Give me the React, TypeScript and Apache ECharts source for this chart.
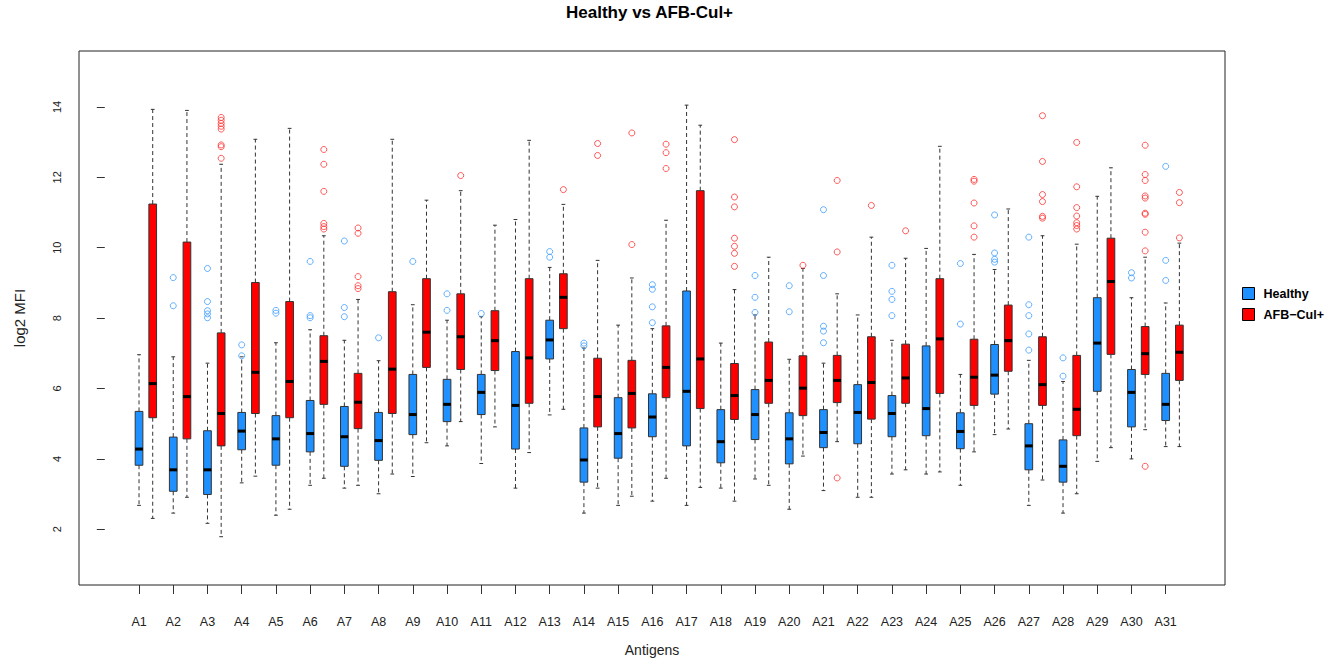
import React, { useEffect, useRef } from "react";
import * as echarts from "echarts";

const categories = [
  "A1", "A2", "A3", "A4", "A5", "A6", "A7", "A8", "A9", "A10",
  "A11", "A12", "A13", "A14", "A15", "A16", "A17", "A18", "A19", "A20",
  "A21", "A22", "A23", "A24", "A25", "A26", "A27", "A28", "A29", "A30", "A31",
];

const yTicks = [2, 4, 6, 8, 10, 12, 14];

// [lower whisker, Q1, median, Q3, upper whisker]
const healthyStats = [
  [2.68, 3.82, 4.28, 5.35, 6.96],
  [2.46, 3.08, 3.69, 4.62, 6.9],
  [2.17, 2.99, 3.69, 4.8, 6.72],
  [3.32, 4.26, 4.79, 5.32, 6.9],
  [2.4, 3.82, 4.57, 5.23, 7.3],
  [3.25, 4.2, 4.72, 5.66, 7.67],
  [3.17, 3.79, 4.63, 5.49, 7.37],
  [3.01, 3.96, 4.52, 5.32, 6.79],
  [3.5, 4.69, 5.26, 6.4, 8.38],
  [4.37, 5.06, 5.55, 6.26, 7.94],
  [3.87, 5.26, 5.89, 6.4, 8.04],
  [3.17, 4.28, 5.52, 7.05, 10.8],
  [5.25, 6.84, 7.38, 7.94, 9.44],
  [2.46, 3.34, 3.97, 4.88, 7.15],
  [2.68, 4.02, 4.72, 5.74, 7.8],
  [2.8, 4.63, 5.19, 5.85, 7.7],
  [2.68, 4.37, 5.92, 8.77, 14.05],
  [3.17, 3.89, 4.49, 5.4, 7.29],
  [3.43, 4.55, 5.26, 5.97, 8.09],
  [2.57, 3.86, 4.57, 5.31, 6.83],
  [3.1, 4.32, 4.75, 5.4, 6.72],
  [2.91, 4.43, 5.32, 6.11, 8.09],
  [3.57, 4.63, 5.29, 5.8, 7.37],
  [3.57, 4.66, 5.43, 7.21, 9.98],
  [3.25, 4.29, 4.78, 5.31, 6.4],
  [4.69, 5.84, 6.38, 7.25, 9.38],
  [2.68, 3.69, 4.37, 5.0, 6.8],
  [2.46, 3.34, 3.79, 4.54, 6.2],
  [3.93, 5.92, 7.29, 8.58, 11.46],
  [4.0, 4.91, 5.89, 6.54, 8.58],
  [4.35, 5.09, 5.55, 6.43, 8.43],
];

const afbStats = [
  [2.31, 5.17, 6.14, 11.24, 13.93],
  [2.91, 4.57, 5.77, 10.16, 13.9],
  [1.79, 4.37, 5.29, 7.58, 12.37],
  [3.51, 5.29, 6.46, 9.01, 13.08],
  [2.57, 5.17, 6.2, 8.47, 13.39],
  [3.45, 5.55, 6.77, 7.5, 10.34],
  [3.25, 4.86, 5.61, 6.43, 8.53],
  [3.57, 5.29, 6.55, 8.75, 13.08],
  [4.46, 6.6, 7.6, 9.12, 11.35],
  [5.06, 6.54, 7.47, 8.69, 11.62],
  [4.91, 6.51, 7.36, 8.21, 10.64],
  [4.18, 5.58, 6.87, 9.12, 13.05],
  [5.41, 7.7, 8.59, 9.26, 11.23],
  [3.17, 4.91, 5.77, 6.86, 9.64],
  [2.94, 4.88, 5.86, 6.8, 9.14],
  [3.45, 5.74, 6.6, 7.78, 10.78],
  [3.19, 5.43, 6.84, 11.62, 13.48],
  [2.8, 5.12, 5.8, 6.71, 8.81],
  [3.25, 5.58, 6.23, 7.32, 9.73],
  [4.08, 5.23, 6.01, 6.93, 9.41],
  [4.49, 5.6, 6.23, 6.94, 8.69],
  [2.91, 5.13, 6.17, 7.47, 10.3],
  [3.69, 5.58, 6.3, 7.26, 9.7],
  [3.63, 5.86, 7.41, 9.12, 12.88],
  [4.2, 5.52, 6.32, 7.4, 9.81],
  [4.85, 6.49, 7.36, 8.37, 11.1],
  [3.4, 5.52, 6.11, 7.47, 10.34],
  [3.01, 4.66, 5.41, 6.94, 10.1],
  [4.32, 6.97, 9.04, 10.27, 12.27],
  [4.83, 6.4, 6.99, 7.76, 9.73],
  [4.35, 6.23, 7.03, 7.8, 10.13],
];

const healthyOutliers = [
  [],
  [9.15, 8.35],
  [9.41, 8.47, 8.21, 8.12, 8.01],
  [7.24, 6.93],
  [8.22, 8.14],
  [9.61, 8.07, 8.01],
  [10.19, 8.3, 8.04],
  [7.44],
  [9.61],
  [8.69, 8.22],
  [8.13],
  [],
  [9.89, 9.73],
  [7.29, 7.21],
  [],
  [8.95, 8.82, 8.32, 7.87],
  [],
  [],
  [9.21, 8.59, 8.16],
  [8.92, 8.18],
  [11.08, 9.21, 7.77, 7.63, 7.3],
  [],
  [9.5, 8.76, 8.53, 8.07],
  [],
  [9.55, 7.83],
  [10.93, 9.85, 9.67, 9.59],
  [10.3, 8.38, 8.07, 7.55, 7.09],
  [6.87, 6.35],
  [],
  [9.29, 9.14],
  [12.31, 9.64, 9.07],
];

const afbOutliers = [
  [],
  [],
  [13.7, 13.62, 13.53, 13.45, 13.37, 12.92, 12.87, 12.54],
  [],
  [],
  [12.79, 12.37, 11.6, 10.69, 10.6, 10.53],
  [10.56, 10.41, 9.18, 8.92, 8.84],
  [],
  [],
  [12.05],
  [],
  [],
  [11.65],
  [12.96, 12.62],
  [13.26, 10.09],
  [12.94, 12.7, 12.25],
  [],
  [13.07, 11.44, 11.16, 10.27, 10.04, 9.84, 9.47],
  [],
  [9.5],
  [11.91, 9.88, 3.46],
  [11.2],
  [10.48],
  [],
  [11.94, 11.89, 11.27, 10.62, 10.3],
  [],
  [13.75, 12.45, 11.51, 11.31, 10.89, 10.84],
  [12.99, 11.73, 11.14, 10.9, 10.71, 10.63, 10.53],
  [],
  [12.91, 12.08, 11.91, 11.47, 11.41, 10.98, 10.95, 10.44, 9.91, 3.79],
  [11.57, 11.28, 10.28],
];

const HEALTHY = "Healthy";
const AFB = "AFB\u2212Cul+";
const BLUE = "#1E90FF";
const RED = "#FF0000";
const AFB_SHIFT = 0.4;
const BOX_W = 0.225;
const STAPLE_W = 0.11;

function boxData(stats: number[][], shift: number) {
  return stats.map((s, i) => [i + 1 + shift, ...s]);
}

function outlierData(outs: number[][], shift: number) {
  const res: number[][] = [];
  outs.forEach((arr, i) => arr.forEach((v) => res.push([i + 1 + shift, v])));
  return res;
}

function makeRenderItem(color: string) {
  return (_params: any, api: any) => {
    const x = api.value(0);
    const low = api.coord([x, api.value(1)]);
    const q1 = api.coord([x, api.value(2)]);
    const med = api.coord([x, api.value(3)]);
    const q3 = api.coord([x, api.value(4)]);
    const high = api.coord([x, api.value(5)]);
    const bw = api.size([BOX_W, 0])[0];
    const sw = api.size([STAPLE_W, 0])[0];
    const cx = low[0];
    const dash = { stroke: "#333", lineWidth: 1, lineDash: [4, 3] };
    const solid = { stroke: "#333", lineWidth: 1 };
    return {
      type: "group",
      children: [
        { type: "line", shape: { x1: cx, y1: q3[1], x2: cx, y2: high[1] }, style: dash },
        { type: "line", shape: { x1: cx, y1: q1[1], x2: cx, y2: low[1] }, style: dash },
        { type: "line", shape: { x1: cx - sw / 2, y1: high[1], x2: cx + sw / 2, y2: high[1] }, style: solid },
        { type: "line", shape: { x1: cx - sw / 2, y1: low[1], x2: cx + sw / 2, y2: low[1] }, style: solid },
        {
          type: "rect",
          shape: { x: cx - bw / 2, y: q3[1], width: bw, height: q1[1] - q3[1] },
          style: { fill: color, stroke: "#333", lineWidth: 1 },
        },
        {
          type: "line",
          shape: { x1: cx - bw / 2, y1: med[1], x2: cx + bw / 2, y2: med[1] },
          style: { stroke: "#000", lineWidth: 3 },
        },
      ],
    };
  };
}

export default function App() {
  const ref = useRef<HTMLDivElement>(null);

  useEffect(() => {
    if (!ref.current) return;
    const chart = echarts.init(ref.current, undefined, { renderer: "svg" });
    const font = "'Liberation Sans', Arial, sans-serif";
    chart.setOption({
      animation: false,
      backgroundColor: "#fff",
      textStyle: { fontFamily: font },
      title: {
        text: "Healthy vs AFB-Cul+",
        left: 566,
        top: 4,
        padding: 0,
        textStyle: { fontSize: 17, fontWeight: "bold", color: "#000", fontFamily: font },
      },
      legend: {
        orient: "vertical",
        left: 1242,
        top: 287,
        padding: 0,
        itemWidth: 12,
        itemHeight: 12,
        itemGap: 8,
        selectedMode: false,
        textStyle: {
          fontSize: 12.5,
          fontWeight: "bold",
          color: "#000",
          lineHeight: 12,
          padding: [0, 0, 0, 4],
          fontFamily: font,
        },
        data: [
          { name: HEALTHY, icon: "rect", itemStyle: { color: BLUE, borderColor: "#000", borderWidth: 1 } },
          { name: AFB, icon: "rect", itemStyle: { color: RED, borderColor: "#000", borderWidth: 1 } },
        ],
      },
      grid: {
        left: 79,
        right: 112,
        top: 51,
        bottom: 82,
        show: true,
        borderColor: "#222",
        borderWidth: 1,
        backgroundColor: "transparent",
      },
      xAxis: {
        type: "value",
        min: -0.754,
        max: 32.733,
        name: "Antigens",
        nameLocation: "middle",
        nameGap: 58,
        nameTextStyle: { fontSize: 14, color: "#222", fontFamily: font },
        axisLine: { show: false },
        splitLine: { show: false },
        axisTick: {
          show: true,
          length: 9,
          customValues: categories.map((_, i) => i + 1),
          lineStyle: { color: "#333" },
        },
        axisLabel: {
          customValues: categories.map((_, i) => i + 1),
          formatter: (v: number) => categories[Math.round(v) - 1] ?? "",
          fontSize: 12.5,
          color: "#222",
          margin: 30,
          fontFamily: font,
        },
      },
      yAxis: {
        type: "value",
        min: 0.418,
        max: 15.588,
        name: "log2 MFI",
        nameLocation: "middle",
        nameGap: 52,
        nameTextStyle: { fontSize: 15, color: "#222", fontFamily: font },
        axisLine: { show: false },
        splitLine: { show: false },
        axisTick: {
          show: true,
          length: 8,
          customValues: yTicks,
          lineStyle: { color: "#333" },
        },
        axisLabel: {
          customValues: yTicks,
          rotate: 90,
          fontSize: 11,
          color: "#222",
          margin: 17,
          fontFamily: font,
        },
      },
      series: [
        {
          name: HEALTHY,
          type: "custom",
          itemStyle: { color: BLUE },
          renderItem: makeRenderItem(BLUE),
          encode: { x: 0, y: [1, 2, 3, 4, 5] },
          data: boxData(healthyStats, 0),
          z: 2,
        },
        {
          name: AFB,
          type: "custom",
          itemStyle: { color: RED },
          renderItem: makeRenderItem(RED),
          encode: { x: 0, y: [1, 2, 3, 4, 5] },
          data: boxData(afbStats, AFB_SHIFT),
          z: 2,
        },
        {
          name: "Healthy outliers",
          type: "scatter",
          symbol: "circle",
          symbolSize: 6,
          itemStyle: { color: "transparent", borderColor: "#3C9CFF", borderWidth: 1 },
          data: outlierData(healthyOutliers, 0),
          z: 3,
        },
        {
          name: "AFB outliers",
          type: "scatter",
          symbol: "circle",
          symbolSize: 6,
          itemStyle: { color: "transparent", borderColor: "#FF3030", borderWidth: 1 },
          data: outlierData(afbOutliers, AFB_SHIFT),
          z: 3,
        },
      ],
    });
    return () => chart.dispose();
  }, []);

  return (
    <div
      ref={ref}
      style={{ position: "absolute", left: 0, top: 0, width: 1337, height: 667 }}
    />
  );
}
